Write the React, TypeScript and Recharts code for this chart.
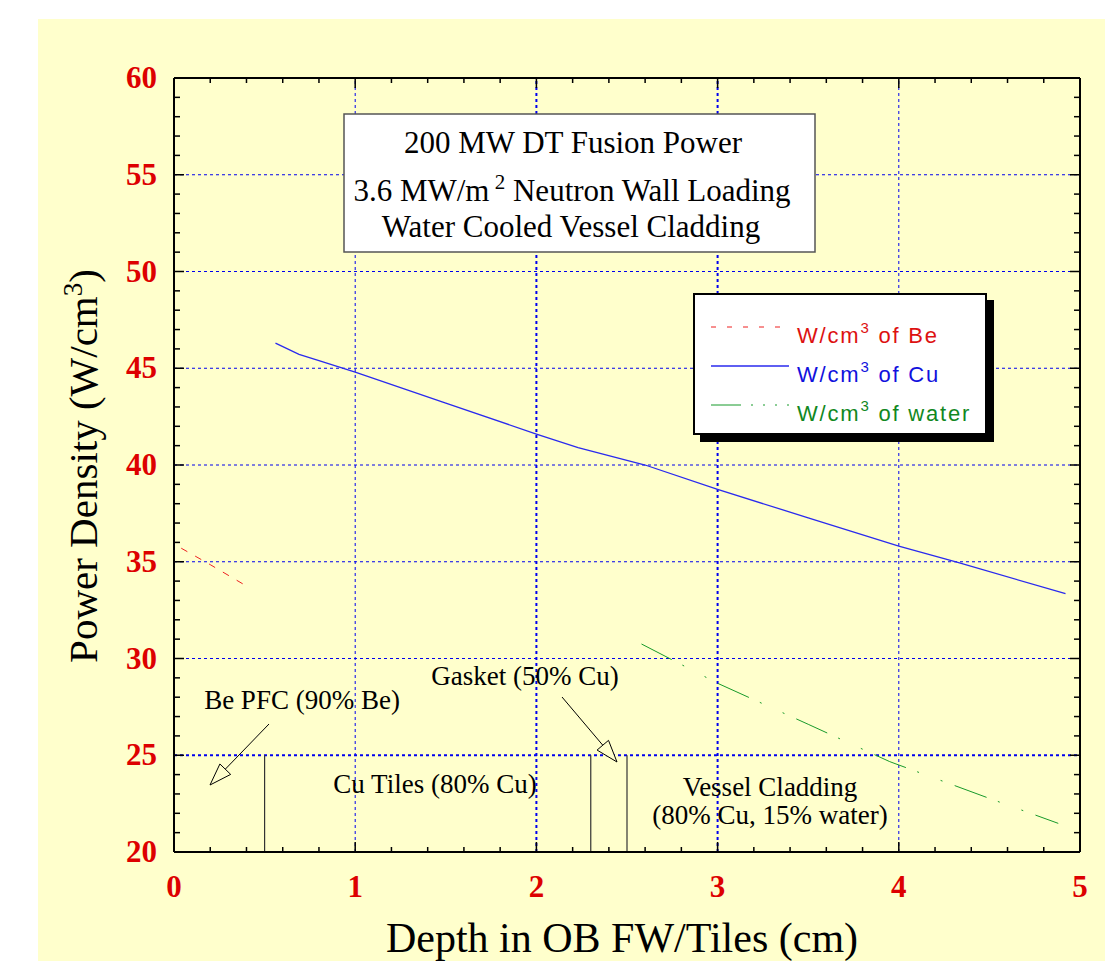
import React from 'react';
import { LineChart, Line, XAxis, YAxis, ReferenceLine, Legend } from 'recharts';

// depth (cm) / power density (W/cm3)
const beDepth = [0.04, 0.2, 0.39];
const beValues = [35.7, 34.85, 33.8];

const cuDepth = [0.56, 0.69, 0.8, 1.0, 1.5, 2.0, 2.23, 2.6, 3.0, 3.5, 4.0, 4.33, 4.92];
const cuValues = [46.3, 45.72, 45.39, 44.8, 43.2, 41.6, 40.9, 40.0, 38.74, 37.27, 35.81, 34.95, 33.35];

const waterDepth = [2.58, 3.0, 3.5, 3.95, 4.5, 4.88];
const waterValues = [30.75, 28.72, 26.6, 24.67, 22.77, 21.48];

const xMajorTicks = [0, 1, 2, 3, 4, 5];
const yMajorTicks = [20, 25, 30, 35, 40, 45, 50, 55, 60];
// minor ticks: every 0.2 cm on x, every 1 W/cm3 on y
const xTicks = Array.from({ length: 26 }, (_, i) => (i * 2) / 10);
const yTicks = Array.from({ length: 41 }, (_, i) => 20 + i);

// layer boundaries drawn at the bottom (Be / Cu tiles / gasket / cladding)
const layerBoundaries = [0.5, 2.3, 2.5];

const toPoints = (xs: number[], ys: number[]) => xs.map((x, i) => ({ x, y: ys[i] }));

const series = [
  { name: 'W/cm3 of Be', tail: ' of Be', data: toPoints(beDepth, beValues), stroke: '#ee2020', text: '#dd1111', dash: '7 9', legendDash: '5 11', width: 1 },
  { name: 'W/cm3 of Cu', tail: ' of Cu', data: toPoints(cuDepth, cuValues), stroke: '#2a2aee', text: '#1111dd', dash: undefined, legendDash: undefined, width: 1.3 },
  { name: 'W/cm3 of water', tail: '  of  water', data: toPoints(waterDepth, waterValues), stroke: '#179a2a', text: '#118822', dash: '34 12 2 23 2 13', legendDash: '30 10 2 10 2 10 2 10', width: 1 },
];

const W = 1105;
const H = 961;
const MARGIN = { top: 78, right: 25, bottom: 49, left: 74 };
const Y_AXIS_W = 100;
const X_AXIS_H = 60;
const PLOT_TOP = MARGIN.top;
const PLOT_RIGHT = W - MARGIN.right;

const SERIF = '"Liberation Serif", "Times New Roman", serif';
const SANS = '"Liberation Sans", Arial, sans-serif';
const TICK_RED = '#dd0000';
const GRID_BLUE = '#0000ee';

function XTick(props: any) {
  const { x, y, payload } = props;
  const v = payload.value;
  const major = Number.isInteger(v);
  const len = major ? 10 : 5;
  return (
    <g>
      <line x1={x} y1={y} x2={x} y2={y - len} stroke="#000" strokeWidth={1.5} />
      <line x1={x} y1={PLOT_TOP} x2={x} y2={PLOT_TOP + len} stroke="#000" strokeWidth={1.5} />
      {major && (
        <text x={x} y={y + 45} textAnchor="middle" fill={TICK_RED} fontFamily={SERIF} fontWeight="bold" fontSize={31}>
          {v}
        </text>
      )}
    </g>
  );
}

function YTick(props: any) {
  const { x, y, payload } = props;
  const v = payload.value;
  const major = v % 5 === 0;
  const len = major ? 10 : 6;
  return (
    <g>
      <line x1={x} y1={y} x2={x + len} y2={y} stroke="#000" strokeWidth={1.5} />
      <line x1={PLOT_RIGHT} y1={y} x2={PLOT_RIGHT - len} y2={y} stroke="#000" strokeWidth={1.5} />
      {major && (
        <text x={x - 17} y={y + 10} textAnchor="end" fill={TICK_RED} fontFamily={SERIF} fontWeight="bold" fontSize={31}>
          {v}
        </text>
      )}
    </g>
  );
}

function LegendBox(props: any) {
  const payload = props.payload || [];
  return (
    <div
      style={{
        boxSizing: 'border-box',
        width: 294,
        height: 142,
        border: '2px solid #000',
        background: '#fff',
        boxShadow: '7px 7px 0 #000',
        position: 'relative',
      }}
    >
      <svg width={290} height={138} style={{ position: 'absolute', left: 0, top: 0 }}>
        {payload.map((entry: any, i: number) => {
          const s = series.find((d) => d.name === entry.value) || series[i];
          const ly = 32 + i * 39;
          return (
            <g key={s.name}>
              <line x1={16} y1={ly} x2={94} y2={ly} stroke={s.stroke} strokeWidth={s.width} strokeDasharray={s.legendDash} />
              <text x={102} y={ly + 16} fill={s.text} fontFamily={SANS} fontSize={22} letterSpacing={1.8}>
                W/cm
                <tspan dy={-10} fontSize={15}>3</tspan>
                <tspan dy={10}>{s.tail}</tspan>
              </text>
            </g>
          );
        })}
      </svg>
    </div>
  );
}

function Arrow({ x1, y1, x2, y2 }: { x1: number; y1: number; x2: number; y2: number }) {
  const dx = x2 - x1;
  const dy = y2 - y1;
  const d = Math.sqrt(dx * dx + dy * dy);
  const ux = dx / d;
  const uy = dy / d;
  const headLen = 22;
  const half = 7.5;
  const bx = x2 - ux * headLen;
  const by = y2 - uy * headLen;
  const pts = `${x2},${y2} ${bx - uy * half},${by + ux * half} ${bx + uy * half},${by - ux * half}`;
  return (
    <g>
      <line x1={x1} y1={y1} x2={bx} y2={by} stroke="#000" strokeWidth={1} />
      <polygon points={pts} fill="#ffffcc" stroke="#000" strokeWidth={1} />
    </g>
  );
}

export default function App() {
  return (
    <div style={{ position: 'fixed', left: 0, top: 0, width: W, height: H, background: '#fff', overflow: 'hidden' }}>
      <div style={{ position: 'absolute', left: 38, top: 19, right: 0, bottom: 0, background: '#ffffcc' }} />
      <div style={{ position: 'absolute', left: 0, top: 0 }}>
        <LineChart width={W} height={H} margin={MARGIN}>
          {xMajorTicks
            .filter((v) => v > 0 && v < 5)
            .map((v) => (
              <ReferenceLine key={'gx' + v} x={v} stroke={GRID_BLUE} strokeDasharray="3 3" strokeWidth={v === 2 || v === 3 ? 2 : 1} />
            ))}
          {yMajorTicks
            .filter((v) => v > 20 && v < 60)
            .map((v) => (
              <ReferenceLine key={'gy' + v} y={v} stroke={GRID_BLUE} strokeDasharray="3 3" strokeWidth={v === 25 ? 2 : 1} />
            ))}
          {layerBoundaries.map((b) => (
            <ReferenceLine
              key={'lb' + b}
              segment={[
                { x: b, y: 20 },
                { x: b, y: 25 },
              ]}
              stroke="#333"
              strokeWidth={1.2}
            />
          ))}
          <ReferenceLine y={60} stroke="#000" strokeWidth={2} />
          <ReferenceLine x={5} stroke="#000" strokeWidth={2} />
          <XAxis
            type="number"
            dataKey="x"
            domain={[0, 5]}
            ticks={xTicks}
            interval={0}
            allowDataOverflow
            height={X_AXIS_H}
            tickSize={0}
            tickMargin={0}
            tickLine={false}
            tick={<XTick />}
            axisLine={{ stroke: '#000', strokeWidth: 2 }}
          />
          <YAxis
            type="number"
            dataKey="y"
            domain={[20, 60]}
            ticks={yTicks}
            interval={0}
            allowDataOverflow
            width={Y_AXIS_W}
            tickSize={0}
            tickMargin={0}
            tickLine={false}
            tick={<YTick />}
            axisLine={{ stroke: '#000', strokeWidth: 2 }}
          />
          {series.map((s) => (
            <Line
              key={s.name}
              data={s.data}
              dataKey="y"
              name={s.name}
              type="linear"
              stroke={s.stroke}
              strokeWidth={s.width}
              strokeDasharray={s.dash}
              dot={false}
              activeDot={false}
              isAnimationActive={false}
            />
          ))}
          <Legend
            layout="horizontal"
            verticalAlign="middle"
            align="center"
            wrapperStyle={{ left: 693, top: 293, width: 294, height: 142 }}
            content={<LegendBox />}
          />
        </LineChart>
      </div>
      <svg width={W} height={H} style={{ position: 'absolute', left: 0, top: 0, pointerEvents: 'none' }}>
        {/* info box */}
        <rect x={344} y={114} width={471} height={138} fill="#fff" stroke="#555" strokeWidth={1.5} />
        <g fontFamily={SERIF} fontSize={31} fill="#000" textAnchor="middle">
          <text x={573} y={153}>200 MW DT Fusion Power</text>
          <text x={572} y={201}>
            3.6 MW/m
            <tspan dy={-12} fontSize={21}> 2</tspan>
            <tspan dy={12}> Neutron Wall Loading</tspan>
          </text>
          <text x={571} y={237}>Water Cooled Vessel Cladding</text>
        </g>

        {/* axis titles */}
        <text x={622} y={952} textAnchor="middle" fontFamily={SERIF} fontSize={42} fill="#000">
          Depth in OB FW/Tiles (cm)
        </text>
        <text transform="translate(97,466) rotate(-90)" textAnchor="middle" fontFamily={SERIF} fontSize={41} fill="#000">
          Power Density (W/cm
          <tspan dy={-15} fontSize={27}>3</tspan>
          <tspan dy={15}>)</tspan>
        </text>

        {/* layer annotations */}
        <g fontFamily={SERIF} fontSize={27} fill="#000" textAnchor="middle">
          <text x={302} y={709}>Be PFC (90% Be)</text>
          <text x={435} y={793}>Cu Tiles (80% Cu)</text>
          <text x={525} y={685}>Gasket (50% Cu)</text>
          <text x={770} y={796}>Vessel Cladding</text>
          <text x={770} y={824}>(80% Cu, 15% water)</text>
        </g>
        <Arrow x1={269} y1={724} x2={210} y2={785} />
        <Arrow x1={562} y1={697} x2={617} y2={762} />
      </svg>
    </div>
  );
}
